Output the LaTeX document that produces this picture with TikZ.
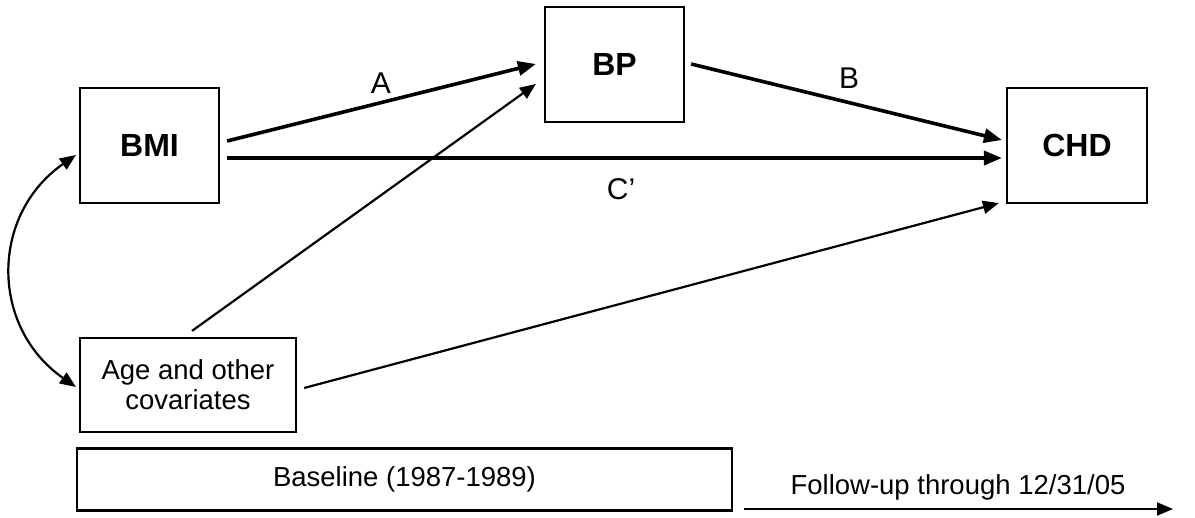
\documentclass[tikz,border=0pt]{standalone}
\usepackage{fontspec}
\setmainfont{Liberation Sans}
\usetikzlibrary{arrows.meta,calc}
\begin{document}
\begin{tikzpicture}[x=1pt,y=-1pt,
  box/.style={draw,line width=2.2pt,rectangle,inner sep=0pt,align=center},
  bigbox/.style={box,minimum width=139pt,minimum height=115pt,font=\fontsize{32}{38}\selectfont\bfseries},
  lbl/.style={font=\fontsize{30}{36}\selectfont,inner sep=0pt},
  txt/.style={font=\fontsize{27.5}{30}\selectfont},
  thickarr/.style={line width=3.6pt,-{Triangle[length=18pt,width=14pt]}},
  thinarr/.style={line width=2.2pt,-{Triangle[length=16pt,width=13pt]}},
  thinline/.style={line width=2.2pt}
]
\useasboundingbox (0,0) rectangle (1195,518);
\node[bigbox] (BMI) at (149.5,145.5) {BMI};
\node[bigbox] (BP) at (614.5,64.5) {BP};
\node[bigbox,minimum width=140pt] (CHD) at (1077,145.5) {CHD};
\node[box,txt,minimum width=216pt,minimum height=94pt] (Age) at (188,385) {Age and other\\covariates};
\node[box,txt,minimum width=655pt,minimum height=62pt] (Base) at (404.5,479.5) {Baseline (1987-1989)};

\node[lbl] (lA) at (381,83) {A};
\node[lbl] (lB) at (849,78) {B};
\node[lbl] (lC) at (621,189) {C’};

\draw[thickarr] ($(BMI.east)+(7,-4.5)$) -- ($(BP.west)+(-8,-0.5)$);
\draw[thickarr] ($(BMI.east)+(7,12.5)$) -- ($(CHD.west)+(-4,12.5)$);
\draw[thickarr] ($(BP.east)+(6,-0.5)$) -- ($(CHD.west)+(-4,-5.5)$);
\draw[thinarr] ($(Age.north)+(4,-6)$) -- ($(BP.west)+(-8,19.5)$);
\draw[thinarr] ($(Age.east)+(7,3)$) -- ($(CHD.south west)+(-7,-1)$);
\draw[thinline,{Triangle[length=16pt,width=13pt]}-{Triangle[length=16pt,width=13pt]}]
  ($(BMI.west)+(-3,9.5)$) .. controls (-10,215) and (-10,327) .. ($(Age.west)+(-3,2)$);

\coordinate (fs) at (744,509);
\coordinate (fe) at (1173,509);
\draw[thinarr] (fs) -- (fe);
\node[txt] (flab) at (958,487) {Follow-up through 12/31/05};
\end{tikzpicture}
\end{document}
